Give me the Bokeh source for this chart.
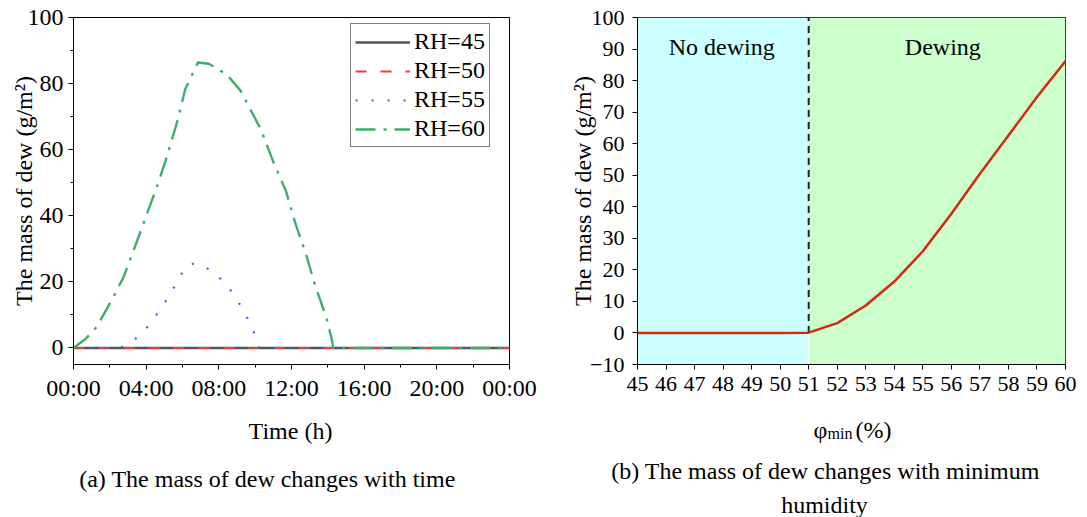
import math
from bokeh.plotting import figure
from bokeh.layouts import row, column
from bokeh.models import Range1d, SingleIntervalTicker, Label, Legend, LegendItem
from bokeh.embed import file_html
from bokeh.resources import INLINE
from bokeh.core.properties import value

FONT = "Liberation Serif"

# ---------------- data (a): dew mass vs time ----------------
time_ticks = [0, 4, 8, 12, 16, 20, 24]
time_tick_labels = ["00:00", "04:00", "08:00", "12:00", "16:00", "20:00", "00:00"]

hours_45 = [0, 24]
mass_45 = [0, 0]
hours_50 = [0, 24]
mass_50 = [0, 0]
hours_55 = [0, 2.57, 3.3, 3.95, 4.46, 4.96, 5.42, 5.84, 6.2, 6.6, 7.03, 7.71,
            8.35, 8.87, 9.31, 9.7, 10.04, 10.2, 24]
mass_55 = [0, 0, 2.2, 5.5, 9.2, 13.2, 17.2, 21.4, 24.9, 25.5, 25.2, 22.9,
           19.6, 15.8, 11.8, 7.7, 3.3, 0, 0]
hours_60 = [0, 0.66, 1.3, 2.2, 2.75, 3.4, 4.0, 4.6, 5.05, 5.7, 6.15, 6.85, 7.45,
            8.45, 9.2, 10.3, 11.0, 11.7, 12.2, 12.8, 13.3, 13.9, 14.2, 14.3, 24]
mass_60 = [0, 2.7, 6.5, 15.5, 21.4, 30.9, 39.9, 48.9, 56.3, 68.3, 78.3, 86.4, 86.0,
           82.7, 77.8, 66.3, 56.3, 47.4, 37.9, 28.4, 18.9, 9.5, 3.0, 0, 0]
series_labels = ["RH=45", "RH=50", "RH=55", "RH=60"]

# ---------------- data (b): dew mass vs minimum humidity ----------------
phi_min = [45, 46, 47, 48, 49, 50, 51, 52, 53, 54, 55, 56, 57, 58, 59, 60]
mass_phi = [0, 0, 0, 0, 0, 0, 0.1, 3.1, 8.7, 16.3, 25.9, 37.8, 50.5, 62.6, 74.8, 86.2]
threshold = 51
region_starts = [45, 51]
region_ends = [51, 60]
region_labels = ["No dewing", "Dewing"]
region_label_x = [47.95, 55.7]
region_label_y = [90.5, 90.5]
region_colors = ["#ccffff", "#ccffcc"]

Y_LABEL = "The mass of dew (g/m²)"


def style_axes(p, tick_size):
    for ax in (p.xaxis[0], p.yaxis[0]):
        ax.axis_line_color = "black"
        ax.axis_line_width = 1
        ax.major_tick_out = 5
        ax.major_tick_in = 0
        ax.minor_tick_out = 3
        ax.minor_tick_in = 0
        ax.major_tick_line_color = "black"
        ax.minor_tick_line_color = "black"
        ax.major_label_text_font = FONT
        ax.major_label_text_font_size = tick_size
        ax.major_label_text_color = "black"
    p.yaxis[0].axis_label_text_font = FONT
    p.yaxis[0].axis_label_text_font_size = "24px"
    p.yaxis[0].axis_label_text_font_style = "normal"
    p.yaxis[0].axis_label_text_color = "black"
    p.grid.visible = False
    p.outline_line_color = "black"
    p.outline_line_width = 1
    p.outline_line_alpha = 1
    p.background_fill_color = "white"
    p.border_fill_color = "white"


TOP_H = 410

# ---------------- panel (a) ----------------
p1 = figure(width=545, height=TOP_H, x_range=Range1d(0, 24), y_range=Range1d(-5, 100),
            output_backend="svg", toolbar_location=None,
            min_border_left=73, min_border_right=36, min_border_top=17,
            min_border_bottom=TOP_H - 368)
style_axes(p1, "24px")
p1.xaxis[0].ticker = SingleIntervalTicker(interval=4, num_minor_ticks=2)
p1.xaxis[0].major_label_overrides = {t: l for t, l in zip(time_ticks, time_tick_labels)}
p1.xaxis[0].major_label_standoff = 5
p1.yaxis[0].ticker = SingleIntervalTicker(interval=20, num_minor_ticks=2)
p1.yaxis[0].major_label_standoff = 5
p1.yaxis[0].axis_label = Y_LABEL
p1.yaxis[0].axis_label_standoff = -12

r45 = p1.line(hours_45, mass_45, line_color="#555555", line_width=2.5)
r50 = p1.line(hours_50, mass_50, line_color="#f03c3c", line_width=2.2, line_dash="11 14")
r55 = p1.line(hours_55, mass_55, line_color="#1f6fe5", line_width=2.2, line_dash="2 14")
r60 = p1.line(hours_60, mass_60, line_color="#3cb06a", line_width=2.4, line_dash="20 8 3 8")

legend = Legend(items=[LegendItem(label=l, renderers=[r]) for l, r in
                       zip(series_labels, [r45, r50, r55, r60])],
                location=(277, 217), border_line_color="black", border_line_width=1,
                background_fill_color="white", background_fill_alpha=1,
                padding=4, spacing=2, margin=0, glyph_width=55, glyph_height=26,
                label_height=26, label_standoff=4, label_text_font=FONT,
                label_text_font_size="24px", label_text_color="black")
p1.add_layout(legend)

# ---------------- panel (b) ----------------
y_min, y_max = -10, 100
p2 = figure(width=542, height=TOP_H, x_range=Range1d(45, 60), y_range=Range1d(y_min, y_max),
            output_backend="svg", toolbar_location=None,
            min_border_left=92, min_border_right=22, min_border_top=17,
            min_border_bottom=TOP_H - 364)
style_axes(p2, "22px")
p2.xaxis[0].ticker = SingleIntervalTicker(interval=1, num_minor_ticks=0)
p2.xaxis[0].major_label_standoff = 7
p2.yaxis[0].ticker = SingleIntervalTicker(interval=10, num_minor_ticks=0)
p2.yaxis[0].major_label_standoff = 8
p2.yaxis[0].axis_label = Y_LABEL
p2.yaxis[0].axis_label_standoff = -9

p2.quad(left=region_starts, right=region_ends, bottom=y_min, top=y_max,
        fill_color=region_colors, line_color=None)
p2.segment(x0=[threshold], y0=[y_min], x1=[threshold], y1=[0], line_color="white", line_width=1.5)
p2.segment(x0=[threshold], y0=[0], x1=[threshold], y1=[y_max], line_color="#222222",
           line_width=2, line_dash="7 5")
p2.text(x=region_label_x, y=region_label_y, text=region_labels, text_font=value(FONT),
        text_font_size="24px", text_align="center", text_baseline="middle", text_color="black")
p2.line(phi_min, mass_phi, line_color="#d42a0c", line_width=2.5)

# ---------------- strip with x-axis titles and captions ----------------
STRIP_H = 517 - TOP_H
strip = figure(width=1087, height=STRIP_H, x_range=Range1d(0, 1087), y_range=Range1d(0, STRIP_H),
               output_backend="svg", toolbar_location=None, min_border=0,
               x_axis_type=None, y_axis_type=None)
strip.grid.visible = False
strip.outline_line_color = None
strip.background_fill_color = "white"
strip.border_fill_color = "white"


def add_text(x, y_baseline, text, size, align="center"):
    strip.add_layout(Label(x=x, y=517 - y_baseline + 8, x_units="screen", y_units="screen",
                           text=text, text_font=FONT, text_font_size=size, text_align=align,
                           text_baseline="alphabetic", text_color="black"))


add_text(290, 438, "Time (h)", "24px")
add_text(267, 486, "(a) The mass of dew changes with time", "24px")
add_text(813, 437, "φ", "24px", align="left")
add_text(827, 441, "min", "16px", align="left")
add_text(855, 437, "(%)", "24px", align="left")
add_text(825, 478, "(b) The mass of dew changes with minimum", "24px")
add_text(824, 512, "humidity", "24px")

layout = column(row(p1, p2, spacing=0), strip, spacing=0)
open("out.html", "w").write(file_html(layout, INLINE))
